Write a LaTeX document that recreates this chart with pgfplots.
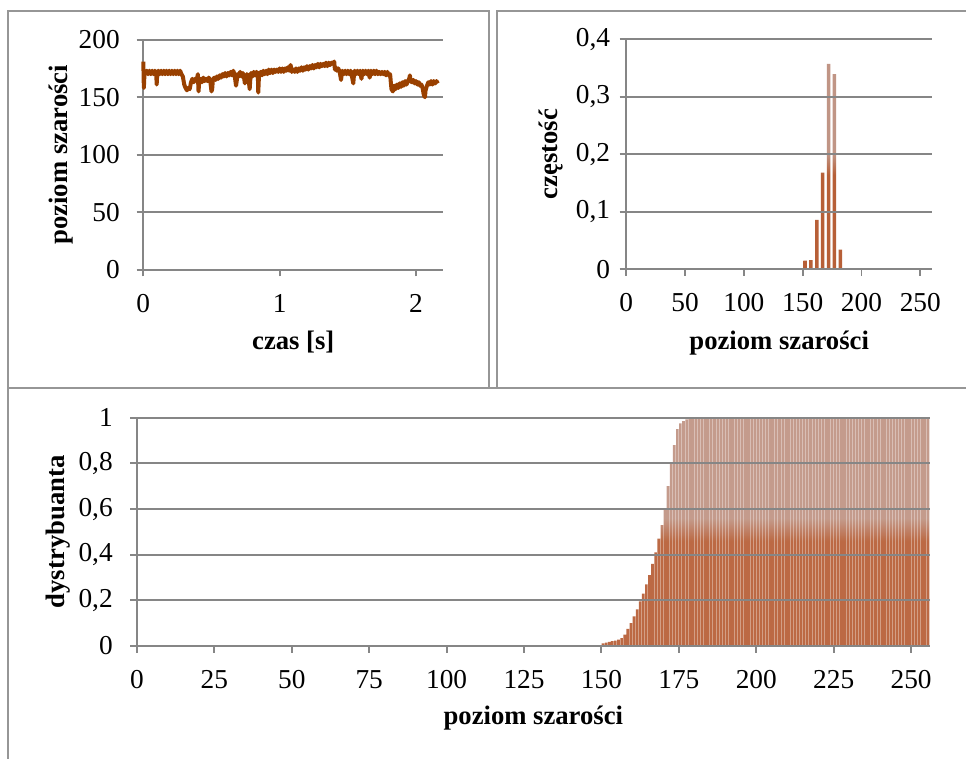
\documentclass[border=0pt]{standalone}
\usepackage{pgfplots}
\pgfplotsset{compat=1.18}
\usepackage{pgfplotstable}
\usepackage{fontspec}
\setmainfont{Liberation Serif}
\definecolor{gridgray}{RGB}{134,134,134}
\definecolor{framegray}{RGB}{150,150,150}
\definecolor{linebrown}{RGB}{153,64,0}
\definecolor{barlight}{RGB}{176,122,102}
\definecolor{bardark}{RGB}{165,55,5}
\pgfdeclareverticalshading{barshade}{100bp}{color(0bp)=(bardark); color(25bp)=(bardark); color(48bp)=(bardark); color(53bp)=(barlight); color(75bp)=(barlight); color(100bp)=(barlight)}

\pgfplotstableread{
t v
0.000 181
0.004 158
0.008 169
0.015 171
0.025 173
0.035 170
0.045 173
0.055 170
0.065 173
0.075 170
0.085 173
0.095 170
0.098 161
0.102 170
0.110 173
0.120 170
0.130 173
0.140 170
0.150 173
0.160 170
0.170 173
0.180 170
0.190 173
0.200 170
0.210 173
0.220 170
0.230 173
0.240 170
0.250 173
0.260 170
0.270 173
0.280 170
0.290 168
0.300 161
0.310 158
0.320 156
0.330 158
0.340 157
0.350 163
0.360 166
0.370 163
0.380 166
0.390 164
0.400 170
0.405 155
0.410 164
0.420 166
0.430 163
0.440 167
0.450 164
0.460 166
0.470 164
0.480 167
0.490 165
0.500 155
0.505 157
0.510 165
0.520 167
0.530 165
0.540 168
0.550 166
0.560 169
0.570 167
0.580 170
0.590 168
0.600 171
0.610 168
0.620 171
0.630 169
0.640 172
0.650 169
0.660 173
0.670 169
0.680 160
0.685 164
0.690 170
0.700 168
0.710 172
0.720 168
0.730 171
0.740 166
0.745 162
0.750 167
0.760 170
0.770 168
0.780 157
0.785 166
0.790 171
0.800 168
0.810 172
0.820 169
0.830 172
0.840 170
0.843 154
0.848 168
0.860 172
0.870 169
0.880 173
0.890 170
0.900 173
0.910 170
0.920 174
0.930 171
0.940 174
0.950 171
0.960 174
0.970 172
0.980 174
0.990 172
1.000 175
1.010 172
1.020 175
1.030 172
1.040 175
1.050 173
1.060 176
1.070 173
1.080 178
1.090 172
1.100 174
1.110 172
1.120 175
1.130 172
1.140 175
1.150 173
1.160 176
1.170 173
1.180 176
1.190 174
1.200 177
1.210 174
1.220 177
1.230 175
1.240 178
1.250 175
1.260 178
1.270 176
1.280 179
1.290 176
1.300 179
1.310 177
1.320 179
1.330 177
1.340 180
1.350 177
1.360 180
1.370 178
1.380 180
1.390 179
1.400 181
1.405 174
1.410 176
1.420 173
1.430 175
1.440 172
1.450 165
1.455 170
1.460 173
1.470 170
1.480 173
1.490 170
1.500 173
1.510 170
1.520 173
1.530 168
1.540 162
1.545 170
1.550 173
1.560 170
1.570 173
1.580 170
1.590 173
1.600 166
1.605 171
1.610 173
1.620 170
1.630 173
1.640 170
1.650 173
1.660 167
1.665 171
1.670 173
1.680 170
1.690 173
1.700 170
1.710 173
1.720 170
1.730 172
1.740 170
1.750 172
1.760 170
1.770 172
1.780 169
1.790 172
1.800 169
1.810 170
1.815 163
1.820 157
1.830 155
1.840 160
1.850 157
1.860 161
1.870 158
1.880 162
1.890 159
1.900 163
1.910 160
1.920 164
1.930 161
1.940 164
1.950 166
1.955 169
1.960 164
1.970 163
1.980 165
1.990 162
2.000 164
2.010 161
2.020 163
2.030 160
2.040 161
2.050 157
2.055 153
2.060 151
2.065 150
2.070 156
2.080 160
2.090 163
2.100 161
2.110 164
2.120 161
2.130 164
2.140 162
2.150 164
2.160 162
}\timeseries

\pgfplotstableread{
x y
152 0.015
157 0.016
162 0.086
167 0.168
172 0.357
177 0.339
182 0.034
}\hist

\pgfplotstableread{
x y
150 0.012
151 0.015
152 0.018
153 0.021
154 0.024
155 0.028
156 0.035
157 0.050
158 0.075
159 0.100
160 0.130
161 0.160
162 0.195
163 0.230
164 0.270
165 0.310
166 0.360
167 0.410
168 0.470
169 0.530
170 0.600
171 0.700
172 0.800
173 0.880
174 0.950
175 0.975
176 0.985
177 0.993
178 0.997
179 1
180 1
181 1
182 1
183 1
184 1
185 1
186 1
187 1
188 1
189 1
190 1
191 1
192 1
193 1
194 1
195 1
196 1
197 1
198 1
199 1
200 1
201 1
202 1
203 1
204 1
205 1
206 1
207 1
208 1
209 1
210 1
211 1
212 1
213 1
214 1
215 1
216 1
217 1
218 1
219 1
220 1
221 1
222 1
223 1
224 1
225 1
226 1
227 1
228 1
229 1
230 1
231 1
232 1
233 1
234 1
235 1
236 1
237 1
238 1
239 1
240 1
241 1
242 1
243 1
244 1
245 1
246 1
247 1
248 1
249 1
250 1
251 1
252 1
253 1
254 1
255 1
}\cdf

\pgfplotsset{
  excelstyle/.style={
    scale only axis,
    anchor=south west,
    axis x line*=bottom,
    axis y line*=left,
    axis line style={gridgray, line width=1.45pt, -},
    ymajorgrids,
    major grid style={gridgray, line width=1.45pt},
    tick align=outside,
    major tick length=5pt,
    major tick style={gridgray, line width=1.45pt},
    tick label style={font=\fontsize{20.5}{24}\selectfont, inner sep=0pt},
    /pgf/number format/assume math mode=true,
    /pgf/number format/use comma,
    /pgf/number format/1000 sep={},
    label style={font=\bfseries\fontsize{20}{24}\selectfont},
    xticklabel style={anchor=north, yshift=-13pt},
    enlargelimits=false,
    clip=false,
  }
}

\begin{document}
\begin{tikzpicture}
\useasboundingbox (0pt,0pt) rectangle (724.5pt,568.5pt);
% panel frames
\draw[framegray, line width=1.3pt] (6pt,560.25pt) rectangle (366.75pt,277.5pt);
\draw[framegray, line width=1.3pt] (372.75pt,560.25pt) rectangle (730pt,277.5pt);
\draw[framegray, line width=1.3pt] (6pt,-5pt) rectangle (730pt,277.5pt);

% top-left: time series
\begin{axis}[excelstyle,
  at={(107.48pt,366.23pt)},
  width=225pt, height=172.5pt,
  xmin=0, xmax=2.2, ymin=0, ymax=200,
  xtick={0,1,2}, ytick={0,50,100,150,200},
  yticklabel style={anchor=east, xshift=-12.5pt},
  xlabel={czas [s]}, ylabel={poziom szarości},
  xlabel style={at={(axis description cs:0.5,-0.314)}, anchor=center},
  ylabel style={at={(axis description cs:-0.273,0.5)}, anchor=center},
]
\addplot[linebrown, line width=3pt, line join=round, no markers] table[x=t,y=v] {\timeseries};
\end{axis}

% top-right: histogram
\begin{axis}[excelstyle,
  axis on top,
  at={(469.73pt,366.53pt)},
  width=229.3pt, height=172.7pt,
  xmin=0, xmax=260, ymin=0, ymax=0.4,
  xtick={0,50,100,150,200,250}, ytick={0,0.1,0.2,0.3,0.4},
  yticklabel style={anchor=east, xshift=-7pt, /pgf/number format/fixed},
  xlabel={poziom szarości}, ylabel={częstość},
  xlabel style={at={(axis description cs:0.5,-0.32)}, anchor=center},
  ylabel style={at={(axis description cs:-0.246,0.5)}, anchor=center},
]
\addplot[ybar, bar width=3, draw=none, shading=barshade, fill opacity=0.8] table[x=x,y=y] {\hist};
\end{axis}

% bottom: cumulative distribution
\begin{axis}[excelstyle,
  axis on top,
  at={(102.75pt,84pt)},
  width=594.5pt, height=171.2pt,
  xmin=0, xmax=256, ymin=0, ymax=1,
  xtick={0,25,...,250}, ytick={0,0.2,0.4,0.6,0.8,1},
  yticklabel style={anchor=east, xshift=-13pt, /pgf/number format/fixed},
  xlabel={poziom szarości}, ylabel={dystrybuanta},
  xlabel style={at={(axis description cs:0.5,-0.315)}, anchor=center},
  ylabel style={at={(axis description cs:-0.0997,0.5)}, anchor=center},
]
\addplot[ybar, bar width=0.85, bar shift=0.5, draw=none, shading=barshade, fill opacity=0.75] table[x=x,y=y] {\cdf};
\end{axis}
\end{tikzpicture}
\end{document}
